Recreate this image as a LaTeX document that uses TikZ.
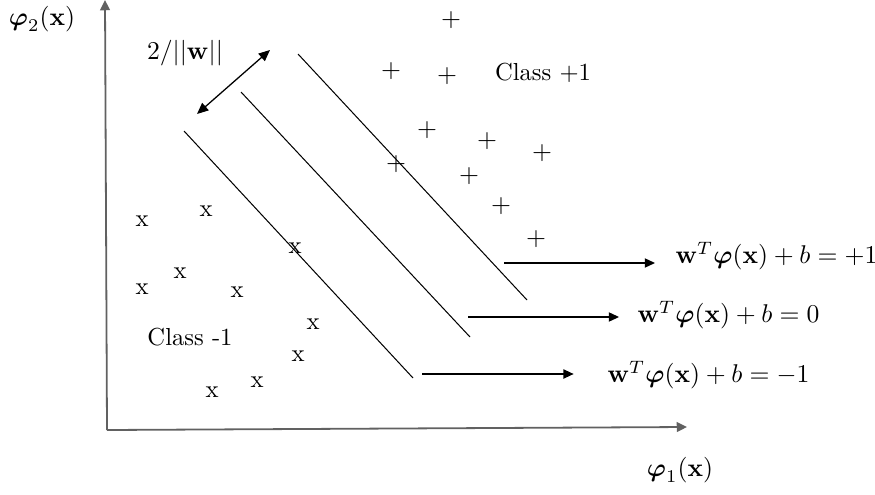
\documentclass[tikz,border=0pt]{standalone}
\usepackage{amsmath,amssymb}
\usepackage{tikz}
\usetikzlibrary{arrows.meta,positioning,calc}

\begin{document}
\begin{tikzpicture}[x=0.0137cm,y=-0.0137cm,
  every node/.style={font=\fontsize{9.6}{11.5}\selectfont},
  axis/.style={-{Triangle[length=4pt,width=3.8pt]},draw=black!62,line width=0.7pt},
  hyp/.style={line width=0.4pt},
  pt/.style={-{Triangle[length=4pt,width=3.6pt]},line width=0.5pt},
  gap/.style={{Triangle[length=4.4pt,width=3.8pt]}-{Triangle[length=4.4pt,width=3.8pt]},line width=0.5pt},
  mk/.style={inner sep=0pt},
  eq/.style={anchor=west,inner sep=0pt}]
\useasboundingbox (0,0) rectangle (875,494);
% feature space axes
\coordinate (o) at (107,430);
\coordinate (xe) at (687,427);
\coordinate (ye) at (105,0);
\draw[axis] (o) -- (xe);
\draw[axis] (o) -- (ye);
\node (phi1) at (680,470) {$\boldsymbol{\varphi}_1(\mathbf{x})$};
\node (phi2) at (42,19) {$\boldsymbol{\varphi}_2(\mathbf{x})$};
% the three hyperplanes
\coordinate (m1) at (184,131);  \coordinate (m2) at (413,378);
\coordinate (h1) at (241,92);   \coordinate (h2) at (470,337);
\coordinate (p1) at (298,54);   \coordinate (p2) at (527,300);
\draw[hyp] (m1) -- (m2);
\draw[hyp] (h1) -- (h2);
\draw[hyp] (p1) -- (p2);
% margin width
\coordinate (d1) at (197,114);
\coordinate (d2) at (270,50);
\draw[gap] (d1) -- (d2);
\node (marg) at (185,53) {$2/||\mathbf{w}||$};
% labels of the hyperplanes
\node[eq] (ep) at (675,256) {$\mathbf{w}^T\boldsymbol{\varphi}(\mathbf{x})+b=+1$};
\node[eq] (ez) at (637,315) {$\mathbf{w}^T\boldsymbol{\varphi}(\mathbf{x})+b=0$};
\node[eq] (em) at (607,375) {$\mathbf{w}^T\boldsymbol{\varphi}(\mathbf{x})+b=-1$};
\coordinate (sp) at (504,263);
\coordinate (sz) at (468,317);
\coordinate (sm) at (422,374);
\draw[pt,shorten >=7.8pt] (sp) -- (sp -| ep.west);
\draw[pt,shorten >=7pt] (sz) -- (sz -| ez.west);
\draw[pt,shorten >=13pt] (sm) -- (sm -| em.west);
% class +1 samples
\foreach \p [count=\i] in {(451,20),(391,71),(447,76),(427,130),(487,141),
    (542,153),(396,164),(469,176),(501,206),(536,239)}
  \node[mk] (pos\i) at \p {$+$};
\node (cpos) at (543,73) {Class +1};
% class -1 samples
\foreach \p [count=\i] in {(142,221),(206,211),(295,248),(180,273),(142,289),
    (237,292),(313,324),(298,356),(257,382),(212,392)}
  \node[mk] (neg\i) at \p {x};
\node (cneg) at (190,337) {Class -1};
\end{tikzpicture}
\end{document}
